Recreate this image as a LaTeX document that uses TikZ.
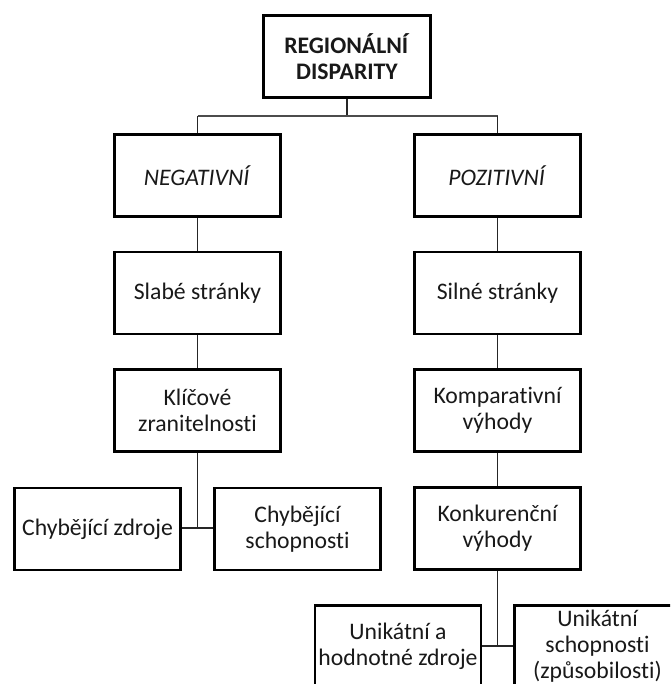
\documentclass[tikz,border=0pt]{standalone}
\usepackage{fontspec}
\setmainfont{Carlito}[Ligatures={NoCommon}]
\begin{document}
\begin{tikzpicture}[x=1pt,y=-1pt,
  box/.style={draw=black, line width=2.6pt, fill=white, minimum width=166pt, minimum height=82pt,
    inner sep=0pt, align=center, font=\fontsize{23.7}{26}\selectfont, text=black!90},
  conn/.style={draw=black!85, line width=1.2pt}]
\useasboundingbox (0,0) rectangle (670,684);
\clip (0,0) rectangle (670,684);
\fill[white] (0,0) rectangle (670,684);
% nodes
\node[box, minimum width=167pt] (top) at (347,56.5) {\textbf{REGIONÁLNÍ}\\\textbf{DISPARITY}};
\node[box] (neg) at (197.5,175.5) {\textit{NEGATIVNÍ}};
\node[box] (pos) at (497.5,175.5) {\textit{POZITIVNÍ}};
\node[box] (slabe) at (197.5,293) {Slabé stránky};
\node[box] (silne) at (497.5,293) {Silné stránky};
\node[box] (klic) at (197.5,410.5) {Klíčové\\zranitelnosti};
\node[box] (komp) at (497.5,410.5) {Komparativní\\výhody};
\node[box] (chz) at (97.5,529) {Chybějící zdroje};
\node[box] (chs) at (297.5,529) {Chybějící\\schopnosti};
\node[box] (konk) at (497.5,528.5) {Konkurenční\\výhody};
\node[box] (uz) at (398,646.5) {Unikátní a\\hodnotné zdroje};
\node[box] (us) at (597.5,646.5) {Unikátní\\schopnosti\\(způsobilosti)};
% connectors
\coordinate (hub) at (347,116);
\coordinate (hubL) at (197.5,116);
\coordinate (hubR) at (497.5,116);
\draw[conn] (top.south) -- (hub);
\draw[conn, line width=1.6pt, draw=black!70] (hubL) -- (hubR);
\draw[conn] (hubL) -- (neg.north);
\draw[conn] (hubR) -- (pos.north);
\draw[conn] (neg.south) -- (slabe.north);
\draw[conn] (pos.south) -- (silne.north);
\draw[conn] (slabe.south) -- (klic.north);
\draw[conn] (silne.south) -- (komp.north);
\draw[conn] (komp.south) -- (konk.north);
\coordinate (j1) at (197.5,528);
\draw[conn] (klic.south) -- (j1);
\draw[conn] (chz.east |- j1) -- (chs.west |- j1);
\coordinate (j2) at (497.5,646);
\draw[conn] (konk.south) -- (j2);
\draw[conn] (uz.east |- j2) -- (us.west |- j2);
\end{tikzpicture}
\end{document}
